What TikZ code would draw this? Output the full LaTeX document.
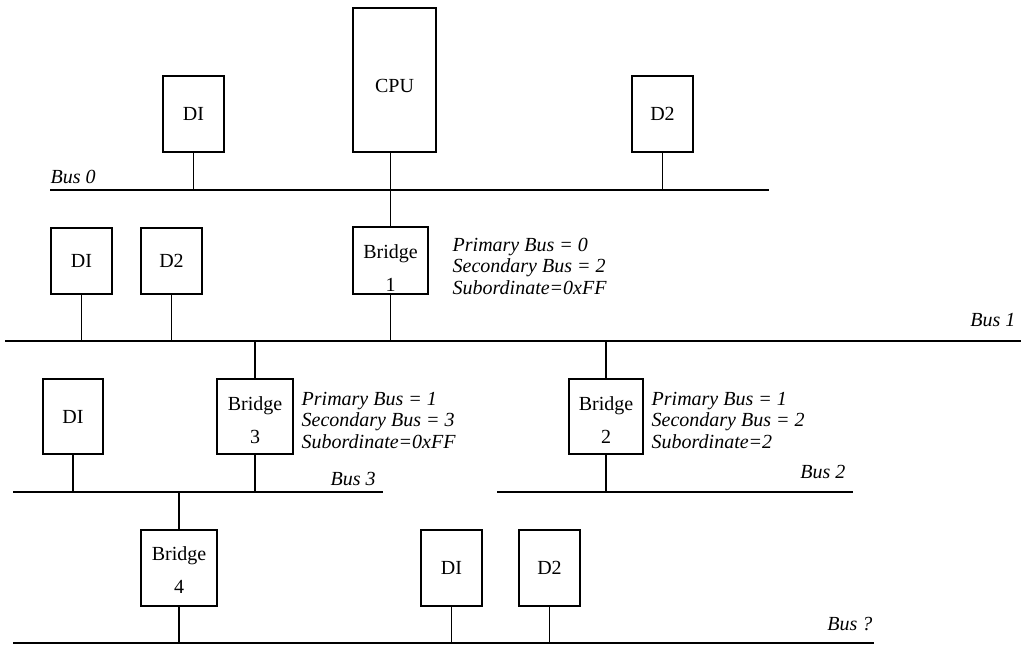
\documentclass[tikz,border=0pt]{standalone}
\usepackage{fontspec}
\setmainfont{Liberation Serif}

\begin{document}
\begin{tikzpicture}[x=1pt, y=-1pt, line width=1.4pt,
    dev/.style={draw, black, rectangle, inner sep=0pt, minimum width=61pt, minimum height=76pt, font=\fontsize{20}{24}\selectfont},
    bridge/.style={draw, black, rectangle, inner sep=0pt, minimum width=76pt, minimum height=75pt, align=center, font=\fontsize{20}{33}\selectfont},
    note/.style={inner sep=0pt, anchor=west, align=left, font=\fontsize{20}{21.5}\selectfont\itshape},
    buslabel/.style={inner sep=0pt, font=\fontsize{20}{24}\selectfont\itshape}]
      \useasboundingbox (0,0) rectangle (1021,646);

      \node[dev] (dia) at (193.5,114) {DI};
      \node[dev, minimum width=83pt, minimum height=144pt] (cpu) at (394.5,80) {\rule{0pt}{26pt}CPU};
      \node[dev] (d2a) at (662.5,114) {D2};
      \coordinate (bus0w) at (50,190);
      \coordinate (bus0e) at (769,190);
      \draw (bus0w) -- (bus0e);
      \node[buslabel, anchor=base west] (lbus0) at (50,183) {Bus 0};
      \draw (dia.south) -- (dia.south |- bus0w);
      \draw (d2a.south) -- (d2a.south |- bus0w);

      \node[dev, minimum height=66pt] (dib) at (81.5,261) {DI};
      \node[dev, minimum height=66pt] (d2b) at (171.5,261) {D2};
      \node[bridge, minimum width=75pt, minimum height=67pt] (b1) at (390.5,260.5) {\rule{0pt}{28pt}Bridge\\1};
      \node[note] (n1) at (452,266) {Primary Bus = 0\\Secondary Bus = 2\\Subordinate=0xFF};
      \draw (cpu.south -| b1.north) -- (b1.north);
      \coordinate (bus1w) at (5,341);
      \coordinate (bus1e) at (1021,341);
      \draw (bus1w) -- (bus1e);
      \node[buslabel, anchor=base east] (lbus1) at (1016,326) {Bus 1};
      \draw (dib.south) -- (dib.south |- bus1w);
      \draw (d2b.south) -- (d2b.south |- bus1w);
      \draw (b1.south) -- (b1.south |- bus1w);

      \node[dev, minimum width=60pt, minimum height=75pt] (dic) at (73,416.5) {DI};
      \node[bridge] (b3) at (255,416.5) {\rule{0pt}{21pt}Bridge\\3};
      \node[note] (n3) at (301,420) {Primary Bus = 1\\Secondary Bus = 3\\Subordinate=0xFF};
      \node[bridge, minimum width=74pt] (b2) at (606,416.5) {\rule{0pt}{21pt}Bridge\\2};
      \node[note] (n2) at (651,420) {Primary Bus = 1\\Secondary Bus = 2\\Subordinate=2};
      \draw (b3.north |- bus1w) -- (b3.north);
      \draw (b2.north |- bus1w) -- (b2.north);
      \coordinate (bus3w) at (13,492);
      \coordinate (bus3e) at (383,492);
      \draw (bus3w) -- (bus3e);
      \node[buslabel, anchor=base west] (lbus3) at (330,485) {Bus 3};
      \coordinate (bus2w) at (497,492);
      \coordinate (bus2e) at (853,492);
      \draw (bus2w) -- (bus2e);
      \node[buslabel, anchor=base east] (lbus2) at (846,478) {Bus 2};
      \draw (dic.south) -- (dic.south |- bus3w);
      \draw (b3.south) -- (b3.south |- bus3w);
      \draw (b2.south) -- (b2.south |- bus2w);

      \node[bridge, minimum height=76pt] (b4) at (179,568) {\rule{0pt}{18pt}Bridge\\4};
      \node[dev] (did) at (451.5,568) {DI};
      \node[dev] (d2d) at (549.5,568) {D2};
      \draw (b4.north |- bus3w) -- (b4.north);
      \coordinate (busqw) at (13,643);
      \coordinate (busqe) at (874,643);
      \draw (busqw) -- (busqe);
      \node[buslabel, anchor=base east] (lbusq) at (873,630) {Bus ?};
      \draw (b4.south) -- (b4.south |- busqw);
      \draw (did.south) -- (did.south |- busqw);
      \draw (d2d.south) -- (d2d.south |- busqw);
    \end{tikzpicture}
\end{document}
